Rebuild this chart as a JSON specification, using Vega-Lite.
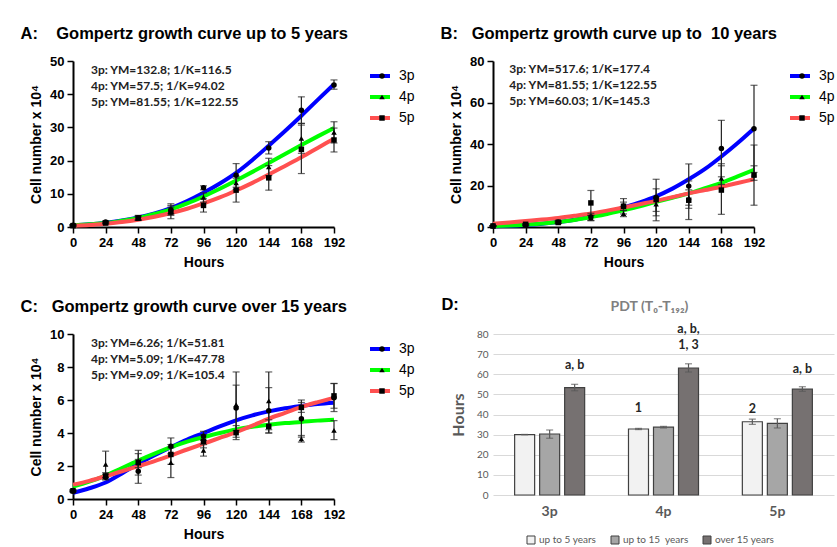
{
  "$schema": "https://vega.github.io/schema/vega-lite/v6.json",
  "padding": {"left": 20, "top": 25, "right": 0, "bottom": 0},
  "columns": 2,
  "spacing": {"row": 27, "column": 25},
  "resolve": {"scale": {"color": "independent", "shape": "independent", "fill": "independent"}, "legend": {"color": "independent", "shape": "independent", "fill": "independent"}},
  "config": {
    "view": {"stroke": null},
    "title": {"font": "Liberation Sans", "fontSize": 16.5, "fontWeight": "bold", "anchor": "start", "color": "#000000", "offset": 13, "dx": -9},
    "axis": {"labelFont": "Liberation Sans", "labelFontWeight": "bold", "labelFontSize": 13, "labelColor": "#000000", "titleFont": "Liberation Sans", "titleFontWeight": "bold", "titleFontSize": 14, "titleColor": "#000000", "domainColor": "#000000", "domainWidth": 2, "tickColor": "#000000", "tickWidth": 1.5, "tickSize": 6, "grid": false, "labelPadding": 3, "titlePadding": 6, "labelFlush": false, "labelOverlap": false}
  },
  "datasets": {
    "ptsA": [
      {"series": "3p", "h": 0, "m": 0.5, "lo": 0.3, "hi": 0.7},
      {"series": "3p", "h": 24, "m": 1.5, "lo": 1.2, "hi": 1.8},
      {"series": "3p", "h": 48, "m": 2.7, "lo": 2.2, "hi": 3.5},
      {"series": "3p", "h": 72, "m": 5.2, "lo": 4.0, "hi": 7.0},
      {"series": "3p", "h": 96, "m": 11.8, "lo": 11.2, "hi": 12.4},
      {"series": "3p", "h": 120, "m": 15.6, "lo": 12.0, "hi": 19.1},
      {"series": "3p", "h": 144, "m": 23.8, "lo": 22.0, "hi": 25.7},
      {"series": "3p", "h": 168, "m": 35.2, "lo": 31.2, "hi": 39.2},
      {"series": "3p", "h": 192, "m": 42.8, "lo": 41.5, "hi": 44.3},
      {"series": "4p", "h": 0, "m": 0.5, "lo": 0.3, "hi": 0.7},
      {"series": "4p", "h": 24, "m": 1.4, "lo": 1.1, "hi": 1.7},
      {"series": "4p", "h": 48, "m": 2.5, "lo": 2.0, "hi": 3.0},
      {"series": "4p", "h": 72, "m": 4.8, "lo": 3.5, "hi": 6.0},
      {"series": "4p", "h": 96, "m": 8.9, "lo": 7.5, "hi": 10.3},
      {"series": "4p", "h": 120, "m": 13.3, "lo": 11.3, "hi": 15.3},
      {"series": "4p", "h": 144, "m": 18.1, "lo": 15.5, "hi": 20.7},
      {"series": "4p", "h": 168, "m": 26.7, "lo": 22.2, "hi": 31.2},
      {"series": "4p", "h": 192, "m": 28.5, "lo": 25.3, "hi": 31.7},
      {"series": "5p", "h": 0, "m": 0.4, "lo": 0.2, "hi": 0.6},
      {"series": "5p", "h": 24, "m": 1.2, "lo": 0.9, "hi": 1.5},
      {"series": "5p", "h": 48, "m": 2.7, "lo": 2.0, "hi": 3.4},
      {"series": "5p", "h": 72, "m": 4.5, "lo": 2.5, "hi": 6.5},
      {"series": "5p", "h": 96, "m": 6.5, "lo": 4.5, "hi": 8.5},
      {"series": "5p", "h": 120, "m": 11.1, "lo": 7.5, "hi": 14.7},
      {"series": "5p", "h": 144, "m": 14.8, "lo": 11.1, "hi": 18.5},
      {"series": "5p", "h": 168, "m": 23.4, "lo": 16.1, "hi": 30.7},
      {"series": "5p", "h": 192, "m": 26.2, "lo": 22.6, "hi": 29.8}
    ],
    "fitA": [
      {"series": "3p", "h": 0, "v": 0.5}, {"series": "3p", "h": 12, "v": 0.8}, {"series": "3p", "h": 24, "v": 1.3}, {"series": "3p", "h": 36, "v": 2.0}, {"series": "3p", "h": 48, "v": 2.9}, {"series": "3p", "h": 60, "v": 4.1}, {"series": "3p", "h": 72, "v": 5.7}, {"series": "3p", "h": 84, "v": 7.8}, {"series": "3p", "h": 96, "v": 10.3}, {"series": "3p", "h": 108, "v": 13.1}, {"series": "3p", "h": 120, "v": 16.3}, {"series": "3p", "h": 132, "v": 20.2}, {"series": "3p", "h": 144, "v": 24.5}, {"series": "3p", "h": 156, "v": 28.9}, {"series": "3p", "h": 168, "v": 33.5}, {"series": "3p", "h": 180, "v": 38.3}, {"series": "3p", "h": 192, "v": 43.0},
      {"series": "4p", "h": 0, "v": 0.5}, {"series": "4p", "h": 12, "v": 0.8}, {"series": "4p", "h": 24, "v": 1.2}, {"series": "4p", "h": 36, "v": 1.9}, {"series": "4p", "h": 48, "v": 2.7}, {"series": "4p", "h": 60, "v": 3.9}, {"series": "4p", "h": 72, "v": 5.3}, {"series": "4p", "h": 84, "v": 7.1}, {"series": "4p", "h": 96, "v": 9.2}, {"series": "4p", "h": 108, "v": 11.5}, {"series": "4p", "h": 120, "v": 14.0}, {"series": "4p", "h": 132, "v": 16.6}, {"series": "4p", "h": 144, "v": 19.3}, {"series": "4p", "h": 156, "v": 22.0}, {"series": "4p", "h": 168, "v": 24.7}, {"series": "4p", "h": 180, "v": 27.3}, {"series": "4p", "h": 192, "v": 29.8},
      {"series": "5p", "h": 0, "v": 0.4}, {"series": "5p", "h": 12, "v": 0.6}, {"series": "5p", "h": 24, "v": 1.0}, {"series": "5p", "h": 36, "v": 1.5}, {"series": "5p", "h": 48, "v": 2.2}, {"series": "5p", "h": 60, "v": 3.1}, {"series": "5p", "h": 72, "v": 4.2}, {"series": "5p", "h": 84, "v": 5.5}, {"series": "5p", "h": 96, "v": 7.1}, {"series": "5p", "h": 108, "v": 8.9}, {"series": "5p", "h": 120, "v": 11.0}, {"series": "5p", "h": 132, "v": 13.3}, {"series": "5p", "h": 144, "v": 15.8}, {"series": "5p", "h": 156, "v": 18.4}, {"series": "5p", "h": 168, "v": 21.0}, {"series": "5p", "h": 180, "v": 23.8}, {"series": "5p", "h": 192, "v": 26.6}
    ],
    "ptsB": [
      {"series": "3p", "h": 0, "m": 0.5, "lo": 0.3, "hi": 0.7},
      {"series": "3p", "h": 24, "m": 1.0, "lo": 0.6, "hi": 1.4},
      {"series": "3p", "h": 48, "m": 2.4, "lo": 1.8, "hi": 3.0},
      {"series": "3p", "h": 72, "m": 4.8, "lo": 3.0, "hi": 6.6},
      {"series": "3p", "h": 96, "m": 10.0, "lo": 6.3, "hi": 13.7},
      {"series": "3p", "h": 120, "m": 14.2, "lo": 5.4, "hi": 23.0},
      {"series": "3p", "h": 144, "m": 19.7, "lo": 9.0, "hi": 30.4},
      {"series": "3p", "h": 168, "m": 37.8, "lo": 24.2, "hi": 51.4},
      {"series": "3p", "h": 192, "m": 47.3, "lo": 26.3, "hi": 68.3},
      {"series": "4p", "h": 0, "m": 0.5, "lo": 0.3, "hi": 0.7},
      {"series": "4p", "h": 24, "m": 1.0, "lo": 0.7, "hi": 1.3},
      {"series": "4p", "h": 48, "m": 2.0, "lo": 1.6, "hi": 2.4},
      {"series": "4p", "h": 72, "m": 4.4, "lo": 3.2, "hi": 5.6},
      {"series": "4p", "h": 96, "m": 6.5, "lo": 5.0, "hi": 8.0},
      {"series": "4p", "h": 120, "m": 11.0, "lo": 7.5, "hi": 14.5},
      {"series": "4p", "h": 144, "m": 14.2, "lo": 10.5, "hi": 17.9},
      {"series": "4p", "h": 168, "m": 23.4, "lo": 20.5, "hi": 30.5},
      {"series": "4p", "h": 192, "m": 25.5, "lo": 22.5, "hi": 29.5},
      {"series": "5p", "h": 0, "m": 0.5, "lo": 0.3, "hi": 0.7},
      {"series": "5p", "h": 24, "m": 1.3, "lo": 0.9, "hi": 1.7},
      {"series": "5p", "h": 48, "m": 2.3, "lo": 1.8, "hi": 2.8},
      {"series": "5p", "h": 72, "m": 11.6, "lo": 5.6, "hi": 17.6},
      {"series": "5p", "h": 96, "m": 10.0, "lo": 8.0, "hi": 12.0},
      {"series": "5p", "h": 120, "m": 13.2, "lo": 3.0, "hi": 18.4},
      {"series": "5p", "h": 144, "m": 12.9, "lo": 3.6, "hi": 22.2},
      {"series": "5p", "h": 168, "m": 17.8, "lo": 6.1, "hi": 29.5},
      {"series": "5p", "h": 192, "m": 25.0, "lo": 10.5, "hi": 39.5}
    ],
    "fitB": [
      {"series": "3p", "h": 0, "v": 0.4}, {"series": "3p", "h": 12, "v": 0.6}, {"series": "3p", "h": 24, "v": 1.0}, {"series": "3p", "h": 36, "v": 1.6}, {"series": "3p", "h": 48, "v": 2.4}, {"series": "3p", "h": 60, "v": 3.5}, {"series": "3p", "h": 72, "v": 5.0}, {"series": "3p", "h": 84, "v": 7.0}, {"series": "3p", "h": 96, "v": 9.4}, {"series": "3p", "h": 108, "v": 11.9}, {"series": "3p", "h": 120, "v": 14.8}, {"series": "3p", "h": 132, "v": 18.5}, {"series": "3p", "h": 144, "v": 23.0}, {"series": "3p", "h": 156, "v": 28.0}, {"series": "3p", "h": 168, "v": 34.0}, {"series": "3p", "h": 180, "v": 40.5}, {"series": "3p", "h": 192, "v": 47.5},
      {"series": "4p", "h": 0, "v": 0.5}, {"series": "4p", "h": 12, "v": 0.7}, {"series": "4p", "h": 24, "v": 1.1}, {"series": "4p", "h": 36, "v": 1.7}, {"series": "4p", "h": 48, "v": 2.4}, {"series": "4p", "h": 60, "v": 3.4}, {"series": "4p", "h": 72, "v": 4.8}, {"series": "4p", "h": 84, "v": 6.3}, {"series": "4p", "h": 96, "v": 8.1}, {"series": "4p", "h": 108, "v": 10.0}, {"series": "4p", "h": 120, "v": 12.1}, {"series": "4p", "h": 132, "v": 14.1}, {"series": "4p", "h": 144, "v": 16.2}, {"series": "4p", "h": 156, "v": 18.7}, {"series": "4p", "h": 168, "v": 21.3}, {"series": "4p", "h": 180, "v": 24.4}, {"series": "4p", "h": 192, "v": 27.5},
      {"series": "5p", "h": 0, "v": 1.6}, {"series": "5p", "h": 12, "v": 2.2}, {"series": "5p", "h": 24, "v": 2.9}, {"series": "5p", "h": 36, "v": 3.6}, {"series": "5p", "h": 48, "v": 4.4}, {"series": "5p", "h": 60, "v": 5.4}, {"series": "5p", "h": 72, "v": 6.5}, {"series": "5p", "h": 84, "v": 7.9}, {"series": "5p", "h": 96, "v": 9.4}, {"series": "5p", "h": 108, "v": 11.0}, {"series": "5p", "h": 120, "v": 12.6}, {"series": "5p", "h": 132, "v": 14.4}, {"series": "5p", "h": 144, "v": 16.2}, {"series": "5p", "h": 156, "v": 17.8}, {"series": "5p", "h": 168, "v": 19.4}, {"series": "5p", "h": 180, "v": 21.2}, {"series": "5p", "h": 192, "v": 23.0}
    ],
    "ptsC": [
      {"series": "3p", "h": 0, "m": 0.47, "lo": 0.42, "hi": 0.52},
      {"series": "3p", "h": 24, "m": 1.32, "lo": 1.15, "hi": 1.5},
      {"series": "3p", "h": 48, "m": 1.68, "lo": 0.95, "hi": 2.4},
      {"series": "3p", "h": 72, "m": 3.2, "lo": 2.75, "hi": 3.7},
      {"series": "3p", "h": 96, "m": 3.8, "lo": 3.55, "hi": 4.1},
      {"series": "3p", "h": 120, "m": 5.52, "lo": 4.15, "hi": 6.9},
      {"series": "3p", "h": 144, "m": 5.35, "lo": 4.0, "hi": 6.75},
      {"series": "3p", "h": 168, "m": 4.87, "lo": 3.75, "hi": 6.0},
      {"series": "3p", "h": 192, "m": 6.13, "lo": 5.3, "hi": 7.0},
      {"series": "4p", "h": 0, "m": 0.5, "lo": 0.45, "hi": 0.55},
      {"series": "4p", "h": 24, "m": 2.1, "lo": 1.3, "hi": 2.9},
      {"series": "4p", "h": 48, "m": 2.3, "lo": 1.9, "hi": 2.75},
      {"series": "4p", "h": 72, "m": 2.2, "lo": 1.3, "hi": 3.1},
      {"series": "4p", "h": 96, "m": 2.95, "lo": 2.6, "hi": 3.3},
      {"series": "4p", "h": 120, "m": 5.72, "lo": 3.74, "hi": 7.7},
      {"series": "4p", "h": 144, "m": 5.94, "lo": 4.2, "hi": 7.7},
      {"series": "4p", "h": 168, "m": 3.65, "lo": 3.45, "hi": 3.85},
      {"series": "4p", "h": 192, "m": 4.16, "lo": 3.6, "hi": 4.75},
      {"series": "5p", "h": 0, "m": 0.5, "lo": 0.45, "hi": 0.55},
      {"series": "5p", "h": 24, "m": 1.4, "lo": 1.2, "hi": 1.6},
      {"series": "5p", "h": 48, "m": 2.2, "lo": 1.45, "hi": 2.95},
      {"series": "5p", "h": 72, "m": 2.7, "lo": 2.1, "hi": 3.3},
      {"series": "5p", "h": 96, "m": 3.5, "lo": 3.1, "hi": 3.9},
      {"series": "5p", "h": 120, "m": 4.02, "lo": 3.6, "hi": 4.45},
      {"series": "5p", "h": 144, "m": 4.4, "lo": 4.0, "hi": 4.8},
      {"series": "5p", "h": 168, "m": 5.55, "lo": 5.25, "hi": 5.85},
      {"series": "5p", "h": 192, "m": 6.25, "lo": 5.5, "hi": 7.0}
    ],
    "fitC": [
      {"series": "3p", "h": 0, "v": 0.37}, {"series": "3p", "h": 12, "v": 0.65}, {"series": "3p", "h": 24, "v": 1.0}, {"series": "3p", "h": 36, "v": 1.55}, {"series": "3p", "h": 48, "v": 2.13}, {"series": "3p", "h": 60, "v": 2.65}, {"series": "3p", "h": 72, "v": 3.14}, {"series": "3p", "h": 84, "v": 3.6}, {"series": "3p", "h": 96, "v": 4.0}, {"series": "3p", "h": 108, "v": 4.4}, {"series": "3p", "h": 120, "v": 4.77}, {"series": "3p", "h": 132, "v": 5.07}, {"series": "3p", "h": 144, "v": 5.31}, {"series": "3p", "h": 156, "v": 5.5}, {"series": "3p", "h": 168, "v": 5.64}, {"series": "3p", "h": 180, "v": 5.76}, {"series": "3p", "h": 192, "v": 5.84},
      {"series": "4p", "h": 0, "v": 0.75}, {"series": "4p", "h": 12, "v": 1.05}, {"series": "4p", "h": 24, "v": 1.42}, {"series": "4p", "h": 36, "v": 1.88}, {"series": "4p", "h": 48, "v": 2.33}, {"series": "4p", "h": 60, "v": 2.75}, {"series": "4p", "h": 72, "v": 3.14}, {"series": "4p", "h": 84, "v": 3.48}, {"series": "4p", "h": 96, "v": 3.75}, {"series": "4p", "h": 108, "v": 4.0}, {"series": "4p", "h": 120, "v": 4.22}, {"series": "4p", "h": 132, "v": 4.38}, {"series": "4p", "h": 144, "v": 4.5}, {"series": "4p", "h": 156, "v": 4.6}, {"series": "4p", "h": 168, "v": 4.67}, {"series": "4p", "h": 180, "v": 4.75}, {"series": "4p", "h": 192, "v": 4.81},
      {"series": "5p", "h": 0, "v": 0.87}, {"series": "5p", "h": 12, "v": 1.1}, {"series": "5p", "h": 24, "v": 1.38}, {"series": "5p", "h": 36, "v": 1.68}, {"series": "5p", "h": 48, "v": 1.99}, {"series": "5p", "h": 60, "v": 2.3}, {"series": "5p", "h": 72, "v": 2.64}, {"series": "5p", "h": 84, "v": 3.0}, {"series": "5p", "h": 96, "v": 3.35}, {"series": "5p", "h": 108, "v": 3.7}, {"series": "5p", "h": 120, "v": 4.06}, {"series": "5p", "h": 132, "v": 4.45}, {"series": "5p", "h": 144, "v": 4.87}, {"series": "5p", "h": 156, "v": 5.22}, {"series": "5p", "h": 168, "v": 5.58}, {"series": "5p", "h": 180, "v": 5.87}, {"series": "5p", "h": 192, "v": 6.13}
    ],
    "bars": [
      {"cat": "3p", "grp": "up to 5 years", "v": 30.0, "lo": 29.9, "hi": 30.1},
      {"cat": "3p", "grp": "up to 15\u00a0 years", "v": 30.3, "lo": 28.2, "hi": 32.3},
      {"cat": "3p", "grp": "over 15 years", "v": 53.4, "lo": 51.8, "hi": 55.0},
      {"cat": "4p", "grp": "up to 5 years", "v": 32.8, "lo": 32.5, "hi": 33.1},
      {"cat": "4p", "grp": "up to 15\u00a0 years", "v": 33.7, "lo": 33.3, "hi": 34.1},
      {"cat": "4p", "grp": "over 15 years", "v": 63.1, "lo": 61.1, "hi": 65.2},
      {"cat": "5p", "grp": "up to 5 years", "v": 36.4, "lo": 35.1, "hi": 37.7},
      {"cat": "5p", "grp": "up to 15\u00a0 years", "v": 35.6, "lo": 33.3, "hi": 37.9},
      {"cat": "5p", "grp": "over 15 years", "v": 52.6, "lo": 51.5, "hi": 53.8}
    ],
    "notes": [
      {"cat": "3p", "grp": "over 15 years", "ny": 64.4, "note": "a, b"},
      {"cat": "4p", "grp": "over 15 years", "ny": 82.5, "note": "a, b,"},
      {"cat": "4p", "grp": "over 15 years", "ny": 74.3, "note": "1, 3"},
      {"cat": "5p", "grp": "over 15 years", "ny": 62.8, "note": "a, b"},
      {"cat": "4p", "grp": "up to 5 years", "ny": 43.0, "note": "1"},
      {"cat": "5p", "grp": "up to 5 years", "ny": 42.6, "note": "2"}
    ]
  },
  "concat": [
    {
      "width": 261, "height": 166,
      "title": {"text": "A:\u00a0\u00a0\u00a0\u00a0Gompertz growth curve up to 5 years"},
      "layer": [
        {"data": {"name": "fitA"}, "mark": {"type": "line", "interpolate": "monotone", "strokeWidth": 4},
         "encoding": {
           "x": {"field": "h", "type": "quantitative", "title": "Hours", "scale": {"domain": [0, 192], "nice": false}, "axis": {"values": [0, 24, 48, 72, 96, 120, 144, 168, 192], "tickCount": 20, "labelOverlap": false, "format": "d"}},
           "y": {"field": "v", "type": "quantitative", "title": "Cell number x 10⁴", "scale": {"domain": [0, 50], "nice": false}, "axis": {"values": [0, 10, 20, 30, 40, 50], "tickCount": 20, "labelOverlap": false, "format": "d"}},
           "color": {"field": "series", "type": "nominal", "scale": {"range": ["#0000ff", "#00ff00", "#ff5050"]}, "legend": {"orient": "none", "legendX": 295, "legendY": 6, "title": null, "symbolType": "stroke", "symbolSize": 400, "symbolStrokeWidth": 4, "labelFont": "Liberation Sans", "labelFontSize": 14, "labelOffset": 7, "clipHeight": 18, "rowPadding": 3}}
         }},
        {"data": {"name": "ptsA"}, "mark": {"type": "errorbar", "ticks": {"size": 7}, "color": "#222222", "thickness": 1.2},
         "encoding": {"x": {"field": "h", "type": "quantitative", "title": "Hours"}, "y": {"field": "lo", "type": "quantitative", "title": "Cell number x 10⁴"}, "y2": {"field": "hi"}}},
        {"data": {"name": "ptsA"}, "mark": {"type": "point", "filled": true, "color": "#000000", "size": 30, "opacity": 1},
         "encoding": {"x": {"field": "h", "type": "quantitative", "title": "Hours"}, "y": {"field": "m", "type": "quantitative", "title": "Cell number x 10⁴"},
           "shape": {"field": "series", "type": "nominal", "scale": {"domain": ["3p", "4p", "5p"], "range": ["circle", "triangle-up", "square"]}, "legend": {"orient": "none", "legendX": 302, "legendY": 6, "title": null, "symbolSize": 30, "symbolFillColor": "#000000", "symbolStrokeWidth": 0, "labelFontSize": 14, "labelExpr": "''", "clipHeight": 18, "rowPadding": 3, "zindex": 1}}}},
        {"data": {"values": [{}]}, "mark": {"type": "text", "text": ["3p: YM=132.8; 1/K=116.5", "4p: YM=57.5; 1/K=94.02", "5p: YM=81.55; 1/K=122.55"], "align": "left", "baseline": "middle", "font": "Lato", "fontWeight": "bold", "fontSize": 12, "lineHeight": 16, "color": "#222222"},
         "encoding": {"x": {"datum": 13.2, "type": "quantitative"}, "y": {"datum": 47.3, "type": "quantitative"}}}
      ]
    },
    {
      "width": 261, "height": 166,
      "title": {"text": "B:\u00a0\u00a0\u00a0Gompertz growth curve up to\u00a0\u00a010 years"},
      "layer": [
        {"data": {"name": "fitB"}, "mark": {"type": "line", "interpolate": "monotone", "strokeWidth": 4},
         "encoding": {
           "x": {"field": "h", "type": "quantitative", "title": "Hours", "scale": {"domain": [0, 192], "nice": false}, "axis": {"values": [0, 24, 48, 72, 96, 120, 144, 168, 192], "tickCount": 20, "labelOverlap": false, "format": "d"}},
           "y": {"field": "v", "type": "quantitative", "title": "Cell number x 10⁴", "scale": {"domain": [0, 80], "nice": false}, "axis": {"values": [0, 20, 40, 60, 80], "tickCount": 20, "labelOverlap": false, "format": "d"}},
           "color": {"field": "series", "type": "nominal", "scale": {"range": ["#0000ff", "#00ff00", "#ff5050"]}, "legend": {"orient": "none", "legendX": 295, "legendY": 6, "title": null, "symbolType": "stroke", "symbolSize": 400, "symbolStrokeWidth": 4, "labelFont": "Liberation Sans", "labelFontSize": 14, "labelOffset": 7, "clipHeight": 18, "rowPadding": 3}}
         }},
        {"data": {"name": "ptsB"}, "mark": {"type": "errorbar", "ticks": {"size": 7}, "color": "#222222", "thickness": 1.2},
         "encoding": {"x": {"field": "h", "type": "quantitative", "title": "Hours"}, "y": {"field": "lo", "type": "quantitative", "title": "Cell number x 10⁴"}, "y2": {"field": "hi"}}},
        {"data": {"name": "ptsB"}, "mark": {"type": "point", "filled": true, "color": "#000000", "size": 30, "opacity": 1},
         "encoding": {"x": {"field": "h", "type": "quantitative", "title": "Hours"}, "y": {"field": "m", "type": "quantitative", "title": "Cell number x 10⁴"},
           "shape": {"field": "series", "type": "nominal", "scale": {"domain": ["3p", "4p", "5p"], "range": ["circle", "triangle-up", "square"]}, "legend": {"orient": "none", "legendX": 302, "legendY": 6, "title": null, "symbolSize": 30, "symbolFillColor": "#000000", "symbolStrokeWidth": 0, "labelFontSize": 14, "labelExpr": "''", "clipHeight": 18, "rowPadding": 3, "zindex": 1}}}},
        {"data": {"values": [{}]}, "mark": {"type": "text", "text": ["3p: YM=517.6; 1/K=177.4", "4p: YM=81.55; 1/K=122.55", "5p: YM=60.03; 1/K=145.3"], "align": "left", "baseline": "middle", "font": "Lato", "fontWeight": "bold", "fontSize": 12, "lineHeight": 16, "color": "#222222"},
         "encoding": {"x": {"datum": 12.0, "type": "quantitative"}, "y": {"datum": 76.0, "type": "quantitative"}}}
      ]
    },
    {
      "width": 261, "height": 165,
      "title": {"text": "C:\u00a0\u00a0\u00a0Gompertz growth curve over 15 years"},
      "layer": [
        {"data": {"name": "fitC"}, "mark": {"type": "line", "interpolate": "monotone", "strokeWidth": 4},
         "encoding": {
           "x": {"field": "h", "type": "quantitative", "title": "Hours", "scale": {"domain": [0, 192], "nice": false}, "axis": {"values": [0, 24, 48, 72, 96, 120, 144, 168, 192], "tickCount": 20, "labelOverlap": false, "format": "d"}},
           "y": {"field": "v", "type": "quantitative", "title": "Cell number x 10⁴", "scale": {"domain": [0, 10], "nice": false}, "axis": {"values": [0, 2, 4, 6, 8, 10], "tickCount": 20, "labelOverlap": false, "format": "d"}},
           "color": {"field": "series", "type": "nominal", "scale": {"range": ["#0000ff", "#00ff00", "#ff5050"]}, "legend": {"orient": "none", "legendX": 295, "legendY": 6, "title": null, "symbolType": "stroke", "symbolSize": 400, "symbolStrokeWidth": 4, "labelFont": "Liberation Sans", "labelFontSize": 14, "labelOffset": 7, "clipHeight": 18, "rowPadding": 3}}
         }},
        {"data": {"name": "ptsC"}, "mark": {"type": "errorbar", "ticks": {"size": 7}, "color": "#222222", "thickness": 1.2},
         "encoding": {"x": {"field": "h", "type": "quantitative", "title": "Hours"}, "y": {"field": "lo", "type": "quantitative", "title": "Cell number x 10⁴"}, "y2": {"field": "hi"}}},
        {"data": {"name": "ptsC"}, "mark": {"type": "point", "filled": true, "color": "#000000", "size": 30, "opacity": 1},
         "encoding": {"x": {"field": "h", "type": "quantitative", "title": "Hours"}, "y": {"field": "m", "type": "quantitative", "title": "Cell number x 10⁴"},
           "shape": {"field": "series", "type": "nominal", "scale": {"domain": ["3p", "4p", "5p"], "range": ["circle", "triangle-up", "square"]}, "legend": {"orient": "none", "legendX": 302, "legendY": 6, "title": null, "symbolSize": 30, "symbolFillColor": "#000000", "symbolStrokeWidth": 0, "labelFontSize": 14, "labelExpr": "''", "clipHeight": 18, "rowPadding": 3, "zindex": 1}}}},
        {"data": {"values": [{}]}, "mark": {"type": "text", "text": ["3p: YM=6.26; 1/K=51.81", "4p: YM=5.09; 1/K=47.78", "5p: YM=9.09; 1/K=105.4"], "align": "left", "baseline": "middle", "font": "Lato", "fontWeight": "bold", "fontSize": 12, "lineHeight": 16, "color": "#222222"},
         "encoding": {"x": {"datum": 13.2, "type": "quantitative"}, "y": {"datum": 9.43, "type": "quantitative"}}}
      ]
    },
    {
      "width": 341, "height": 161,
      "title": {"text": "D:", "dy": 26, "offset": 12},
      "layer": [
        {"data": {"name": "bars"}, "mark": {"type": "bar", "stroke": "#404040", "strokeWidth": 1.2},
         "encoding": {
           "x": {"field": "cat", "type": "nominal", "scale": {"paddingInner": 0.385, "paddingOuter": 0.19}, "axis": {"title": null, "labelAngle": 0, "labelFont": "Lato", "labelFontWeight": "bold", "labelFontSize": 14, "labelColor": "#595959", "ticks": false, "domain": false, "labelPadding": 9}},
           "xOffset": {"field": "grp", "type": "nominal", "sort": ["up to 5 years", "up to 15\u00a0 years", "over 15 years"], "scale": {"paddingInner": 0.2, "paddingOuter": 0}},
           "y": {"field": "v", "type": "quantitative", "title": "Hours", "scale": {"domain": [0, 80], "nice": false}, "axis": {"values": [0, 10, 20, 30, 40, 50, 60, 70, 80], "tickCount": 20, "format": "d", "labelOverlap": false, "grid": true, "gridColor": "#d9d9d9", "domain": false, "ticks": false, "labelFont": "Lato", "labelFontWeight": "normal", "labelFontSize": 10, "labelColor": "#595959", "titleFont": "Lato", "titleFontSize": 16, "titleColor": "#595959", "titleFontWeight": "bold", "labelPadding": 5, "titlePadding": 10}},
           "fill": {"field": "grp", "type": "nominal", "sort": ["up to 5 years", "up to 15\u00a0 years", "over 15 years"], "scale": {"domain": ["up to 5 years", "up to 15\u00a0 years", "over 15 years"], "range": ["#f2f2f2", "#a6a6a6", "#767171"]}, "legend": {"orient": "none", "legendX": 33, "legendY": 201, "direction": "horizontal", "title": null, "symbolType": "square", "symbolSize": 64, "symbolStrokeColor": "#404040", "symbolStrokeWidth": 1, "labelFont": "Lato", "labelFontSize": 10, "labelColor": "#595959", "labelOffset": 3, "columnPadding": 12}}
         }},
        {"data": {"name": "bars"}, "mark": {"type": "rule", "color": "#595959", "strokeWidth": 1.2},
         "encoding": {"x": {"field": "cat", "type": "nominal", "axis": null}, "xOffset": {"field": "grp", "type": "nominal", "sort": ["up to 5 years", "up to 15\u00a0 years", "over 15 years"]}, "y": {"field": "lo", "type": "quantitative", "title": "Hours"}, "y2": {"field": "hi"}}},
        {"data": {"name": "bars"}, "mark": {"type": "tick", "color": "#595959", "size": 7, "thickness": 1.2},
         "encoding": {"x": {"field": "cat", "type": "nominal", "axis": null}, "xOffset": {"field": "grp", "type": "nominal", "sort": ["up to 5 years", "up to 15\u00a0 years", "over 15 years"]}, "y": {"field": "lo", "type": "quantitative", "title": "Hours"}}},
        {"data": {"name": "bars"}, "mark": {"type": "tick", "color": "#595959", "size": 7, "thickness": 1.2},
         "encoding": {"x": {"field": "cat", "type": "nominal", "axis": null}, "xOffset": {"field": "grp", "type": "nominal", "sort": ["up to 5 years", "up to 15\u00a0 years", "over 15 years"]}, "y": {"field": "hi", "type": "quantitative", "title": "Hours"}}},
        {"data": {"name": "notes"}, "mark": {"type": "text", "font": "Lato", "fontWeight": "bold", "fontSize": 12.5, "color": "#262626", "baseline": "middle"},
         "encoding": {
           "x": {"field": "cat", "type": "nominal", "axis": {"orient": "top", "labels": false, "ticks": false, "domain": false, "grid": false, "title": "PDT (T₀-T₁₉₂)", "titleX": 156, "titleFont": "Lato", "titleFontSize": 14, "titleColor": "#808080", "titleFontWeight": "bold", "titlePadding": 21}},
           "xOffset": {"field": "grp", "type": "nominal", "sort": ["up to 5 years", "up to 15\u00a0 years", "over 15 years"]},
           "y": {"field": "ny", "type": "quantitative", "title": "Hours"},
           "text": {"field": "note"}
         }}
      ],
      "resolve": {"axis": {"x": "independent"}}
    }
  ]
}
